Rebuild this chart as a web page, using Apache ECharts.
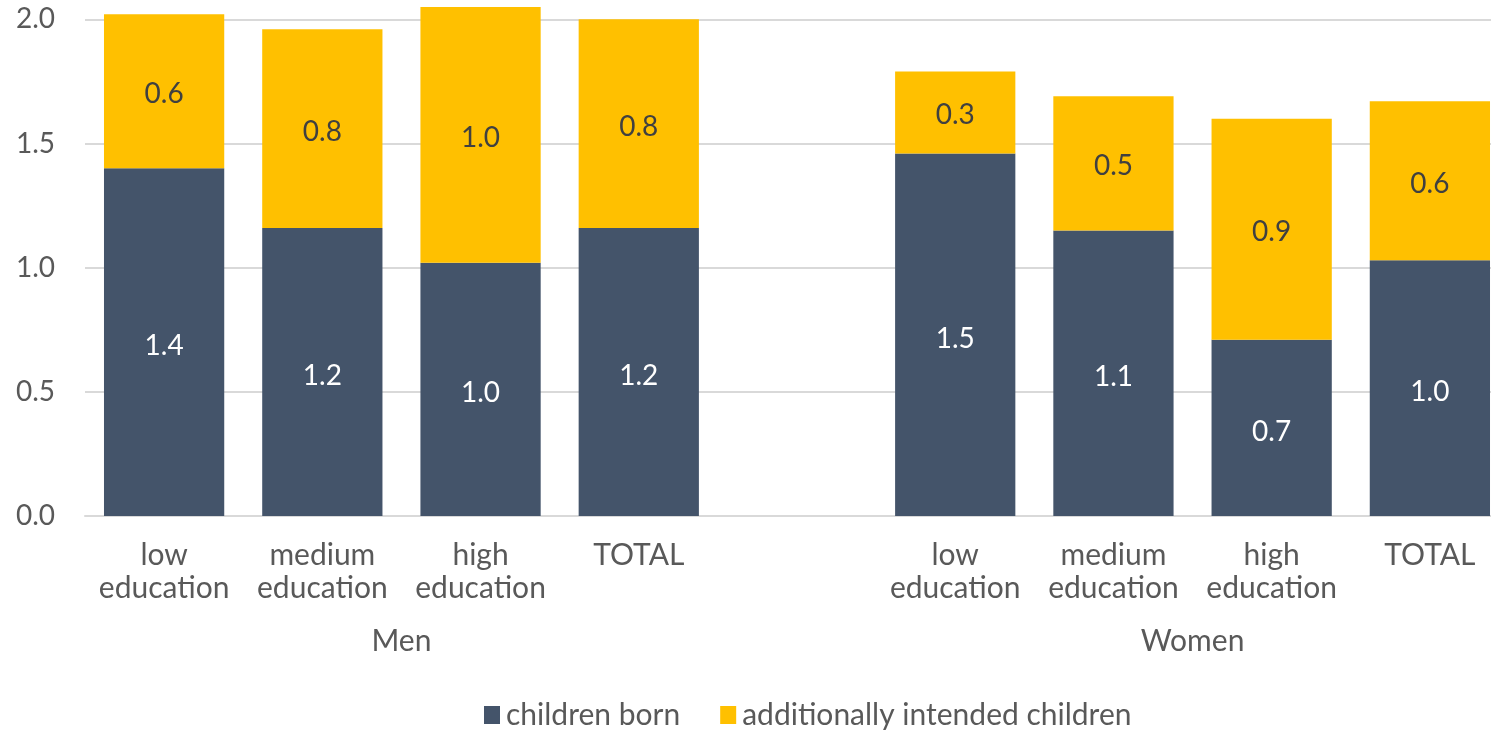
<!DOCTYPE html>
<html>
<head>
<meta charset="utf-8">
<script src="https://cdn.jsdelivr.net/npm/echarts@6/dist/echarts.min.js"></script>
<style>
  html, body { margin: 0; padding: 0; background: #fff; }
  #chart { width: 1491px; height: 730px; }
</style>
</head>
<body>
<div id="chart"></div>
<script>
// Category slots along the x axis; the empty slot separates the two groups.
const categories = [
  'low\neducation', 'medium\neducation', 'high\neducation', 'TOTAL',
  '',
  'low\neducation', 'medium\neducation', 'high\neducation', 'TOTAL'
];
// Average number of children already born
const childrenBorn = [1.40, 1.16, 1.02, 1.16, null, 1.46, 1.15, 0.71, 1.03];
// Additional children still intended
const intendedChildren = [0.62, 0.80, 1.03, 0.84, null, 0.33, 0.54, 0.89, 0.64];
// Group captions and the category slots each group covers [first, lastExclusive]
const groupNames = ['Men', 'Women'];
const groupSlots = [[0, 4], [5, 9]];
// Value axis ticks
const yTicks = [0, 0.5, 1.0, 1.5, 2.0];

const FONT = 'Lato';
const TEXT = '#595959';
const GRID = '#D9D9D9';

const groupCenters = groupSlots.map(s => (s[0] + s[1]) / 2);

const chart = echarts.init(document.getElementById('chart'), null, { renderer: 'canvas' });

chart.setOption({
  animation: false,
  textStyle: { fontFamily: FONT },
  grid: {
    left: 85, top: 19.3, width: 1424, bottom: 214,
    containLabel: false,
    outerBoundsMode: 'none'
  },
  legend: {
    left: 484,
    top: 700,
    icon: 'rect',
    itemWidth: 16,
    itemHeight: 18,
    itemGap: 40,
    padding: 0,
    textStyle: { fontFamily: FONT, fontSize: 30, color: TEXT, padding: [0, 0, 0, 1] },
    data: ['children born', 'additionally intended children']
  },
  xAxis: [
    {
      type: 'category',
      data: categories,
      axisLine: { show: true, lineStyle: { color: GRID, width: 2 } },
      axisTick: { show: false },
      axisLabel: {
        interval: 0,
        color: TEXT,
        fontFamily: FONT,
        fontSize: 30,
        lineHeight: 33,
        margin: 23
      }
    },
    {
      type: 'value',
      position: 'bottom',
      min: 0,
      max: categories.length,
      axisLine: { show: false },
      axisTick: { show: false },
      splitLine: { show: false },
      axisLabel: {
        customValues: groupCenters,
        formatter: v => groupNames[groupCenters.indexOf(v)] || '',
        color: TEXT,
        fontFamily: FONT,
        fontSize: 30,
        lineHeight: 33,
        margin: 109
      }
    }
  ],
  yAxis: {
    type: 'value',
    min: yTicks[0],
    max: yTicks[yTicks.length - 1],
    interval: 0.5,
    axisLine: { show: false },
    axisTick: { show: false },
    splitLine: { lineStyle: { color: GRID, width: 2 } },
    axisLabel: {
      color: TEXT,
      fontFamily: FONT,
      fontSize: 28,
      margin: 30,
      formatter: v => v.toFixed(1)
    }
  },
  series: [
    {
      name: 'children born',
      type: 'bar',
      stack: 'total',
      xAxisIndex: 0,
      clip: false,
      barCategoryGap: '24%',
      itemStyle: { color: '#44546A' },
      label: {
        show: true,
        position: 'inside',
        offset: [0, 4],
        color: '#FFFFFF',
        fontFamily: FONT,
        fontSize: 28,
        formatter: p => p.value == null ? '' : p.value.toFixed(1)
      },
      data: childrenBorn
    },
    {
      name: 'additionally intended children',
      type: 'bar',
      stack: 'total',
      xAxisIndex: 0,
      clip: false,
      barCategoryGap: '24%',
      itemStyle: { color: '#FFC000' },
      label: {
        show: true,
        position: 'inside',
        offset: [0, 3],
        color: '#404040',
        fontFamily: FONT,
        fontSize: 28,
        formatter: p => p.value == null ? '' : p.value.toFixed(1)
      },
      data: intendedChildren
    }
  ]
});
</script>
</body>
</html>
